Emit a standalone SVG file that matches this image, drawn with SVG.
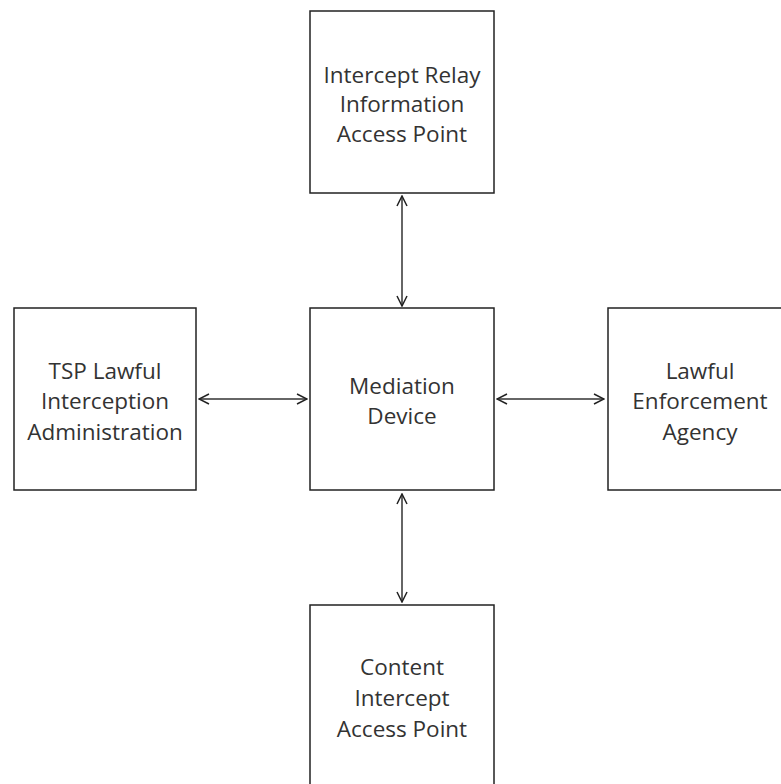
<svg xmlns="http://www.w3.org/2000/svg" width="781" height="784" viewBox="0 0 781 784">
<style>
.box{fill:#fff;stroke:#222;stroke-width:1.5}
.lbl{font-family:"Open Sans","Noto Sans",sans-serif;font-size:22.5px;fill:#333;text-anchor:middle}
.con{stroke:#333;stroke-width:1.5;fill:none;marker-start:url(#ah);marker-end:url(#ah)}
</style>
<defs>
<marker id="ah" viewBox="0 0 12 12" refX="11" refY="6" markerWidth="12" markerHeight="12" markerUnits="userSpaceOnUse" orient="auto-start-reverse">
<path d="M1,1 L11,6 L1,11" fill="none" stroke="#222" stroke-width="1.5"/>
</marker>
</defs>
<rect width="781" height="784" fill="#fff"/>
<g id="connectors">
<line class="con" x1="402" y1="196" x2="402" y2="306"/>
<line class="con" x1="402" y1="494" x2="402" y2="602"/>
<line class="con" x1="199" y1="399" x2="307" y2="399"/>
<line class="con" x1="497" y1="399" x2="604" y2="399"/>
</g>
<g id="irap">
<rect class="box" x="310" y="11" width="184" height="182"/>
<text class="lbl" x="402" y="83">Intercept Relay</text>
<text class="lbl" x="402" y="112">Information</text>
<text class="lbl" x="402" y="142">Access Point</text>
</g>
<g id="tsp">
<rect class="box" x="14" y="308" width="182" height="182"/>
<text class="lbl" x="105" y="379">TSP Lawful</text>
<text class="lbl" x="105" y="409">Interception</text>
<text class="lbl" x="105" y="440">Administration</text>
</g>
<g id="md">
<rect class="box" x="310" y="308" width="184" height="182"/>
<text class="lbl" x="402" y="394">Mediation</text>
<text class="lbl" x="402" y="424">Device</text>
</g>
<g id="lea">
<rect class="box" x="608" y="308" width="185" height="182"/>
<text class="lbl" x="700" y="379">Lawful</text>
<text class="lbl" x="700" y="409">Enforcement</text>
<text class="lbl" x="700" y="440">Agency</text>
</g>
<g id="ciap">
<rect class="box" x="310" y="605" width="184" height="190"/>
<text class="lbl" x="402" y="675">Content</text>
<text class="lbl" x="402" y="706">Intercept</text>
<text class="lbl" x="402" y="737">Access Point</text>
</g>
</svg>
